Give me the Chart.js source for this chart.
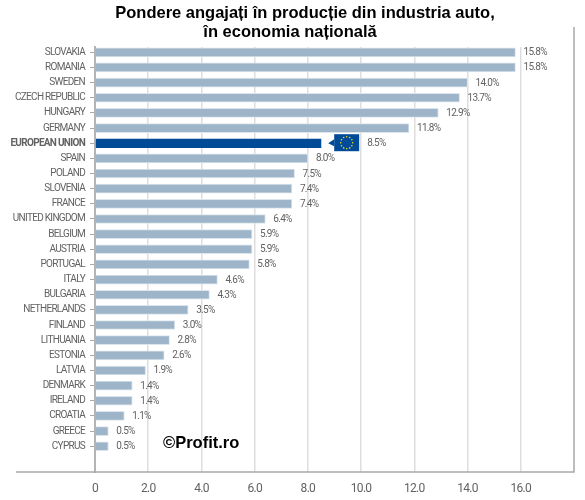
<!DOCTYPE html>
<html>
<head>
<meta charset="utf-8">
<script src="https://cdn.jsdelivr.net/npm/chart.js@4"></script>
<style>
html, body { margin: 0; padding: 0; background: #fff; }
#wrap { width: 585px; height: 500px; }
</style>
</head>
<body>
<div id="wrap"><canvas id="chart"></canvas></div>
<script>
const categories = ['SLOVAKIA', 'ROMANIA', 'SWEDEN', 'CZECH REPUBLIC', 'HUNGARY', 'GERMANY', 'EUROPEAN UNION', 'SPAIN', 'POLAND', 'SLOVENIA', 'FRANCE', 'UNITED KINGDOM', 'BELGIUM', 'AUSTRIA', 'PORTUGAL', 'ITALY', 'BULGARIA', 'NETHERLANDS', 'FINLAND', 'LITHUANIA', 'ESTONIA', 'LATVIA', 'DENMARK', 'IRELAND', 'CROATIA', 'GREECE', 'CYPRUS'];
const values = [15.8, 15.8, 14.0, 13.7, 12.9, 11.8, 8.5, 8.0, 7.5, 7.4, 7.4, 6.4, 5.9, 5.9, 5.8, 4.6, 4.3, 3.5, 3.0, 2.8, 2.6, 1.9, 1.4, 1.4, 1.1, 0.5, 0.5];
const titleLines = ['Pondere angajați în producție din industria auto,', 'în economia națională'];
const watermark = '©Profit.ro';
const euName = 'EUROPEAN UNION';
const euIndex = categories.indexOf(euName);

const barColor = '#9db4c9';
const euColor = '#004b97';
const textColor = '#626262';

const overlay = {
    id: 'overlay',
    beforeDraw(chart) {
        // the original labels are a condensed face, tighten Roboto to get the same widths
        chart.ctx.letterSpacing = '-0.7px';
    },
    afterDatasetsDraw(chart) {
        const ctx = chart.ctx;
        const xs = chart.scales.x;
        const ys = chart.scales.y;
        ctx.save();

        // outer frame lines
        ctx.strokeStyle = '#a8a8a8';
        ctx.lineWidth = 1.5;
        ctx.beginPath();
        ctx.moveTo(16, ys.bottom);
        ctx.lineTo(xs.right, ys.bottom);
        ctx.lineTo(xs.right, 27);
        ctx.stroke();

        // value labels
        ctx.font = '10px Roboto';
        ctx.fillStyle = textColor;
        ctx.textAlign = 'left';
        ctx.textBaseline = 'middle';
        values.forEach((v, i) => {
            const extra = i === euIndex ? 38 : 0;
            ctx.fillText(v.toFixed(1) + '%', xs.getPixelForValue(v) + 8 + extra, ys.getPixelForValue(i) + 0.5);
        });

        // EU flag
        const fx = xs.getPixelForValue(values[euIndex]) + 13;
        const fy = ys.getPixelForValue(euIndex);
        ctx.fillStyle = euColor;
        ctx.fillRect(fx, fy - 9, 25, 17);
        ctx.beginPath();
        ctx.moveTo(fx, fy - 4);
        ctx.lineTo(fx - 6, fy);
        ctx.lineTo(fx, fy + 3);
        ctx.fill();
        ctx.fillStyle = '#f5d327';
        for (let k = 0; k < 12; k++) {
            const a = k * Math.PI / 6;
            ctx.beginPath();
            ctx.arc(fx + 12.5 + Math.cos(a) * 6, fy - 0.5 + Math.sin(a) * 6, 0.8, 0, Math.PI * 2);
            ctx.fill();
        }

        // title and watermark
        ctx.letterSpacing = '0px';
        ctx.fillStyle = '#000';
        ctx.textAlign = 'center';
        ctx.font = 'bold 16.5px "Liberation Sans"';
        ctx.fillText(titleLines[0], 305, 13);
        ctx.fillText(titleLines[1], 290, 32);
        ctx.textAlign = 'left';
        ctx.fillText(watermark, 163, 443);
        ctx.restore();
    }
};

new Chart(document.getElementById('chart'), {
    type: 'bar',
    data: {
        datasets: [{
            data: values.map((v, i) => ({ x: v, y: i })),
            backgroundColor: values.map((v, i) => i === euIndex ? euColor : barColor),
            borderColor: values.map((v, i) => i === euIndex ? euColor : '#dce4ec'),
            borderWidth: 1,
            barThickness: 9
        }]
    },
    options: {
        indexAxis: 'y',
        responsive: true,
        maintainAspectRatio: false,
        animation: false,
        layout: { padding: { top: 47, right: 11, left: 0, bottom: 0 } },
        plugins: { legend: { display: false }, tooltip: { enabled: false } },
        scales: {
            x: {
                type: 'linear',
                min: 0,
                max: 18,
                afterFit: scale => { scale.height = 28; },
                afterBuildTicks: scale => { scale.ticks = [0, 2, 4, 6, 8, 10, 12, 14, 16].map(v => ({ value: v })); },
                border: { display: false },
                grid: { color: '#dedede', lineWidth: 1.5, drawTicks: false },
                ticks: {
                    color: textColor,
                    font: { family: 'Roboto', size: 12 },
                    padding: 10,
                    callback: v => v === 0 ? '0' : v.toFixed(1)
                }
            },
            y: {
                type: 'linear',
                reverse: true,
                offset: false,
                bounds: 'data',
                min: -0.35,
                max: 27.7,
                afterFit: scale => { scale.width = 95; scale.paddingTop = 0; scale.paddingBottom = 0; },
                afterBuildTicks: scale => { scale.ticks = categories.map((c, i) => ({ value: i })); },
                border: { color: '#b4b4b4', width: 2 },
                grid: { offset: false, drawOnChartArea: false, color: '#a8a8a8', tickLength: 5 },
                ticks: {
                    color: textColor,
                    padding: 5,
                    autoSkip: false,
                    font: ctx => ({ family: 'Roboto', size: 10, weight: ctx.index === euIndex ? 'bold' : 'normal' }),
                    callback: v => categories[v]
                }
            }
        }
    },
    plugins: [overlay]
});
</script>
</body>
</html>
